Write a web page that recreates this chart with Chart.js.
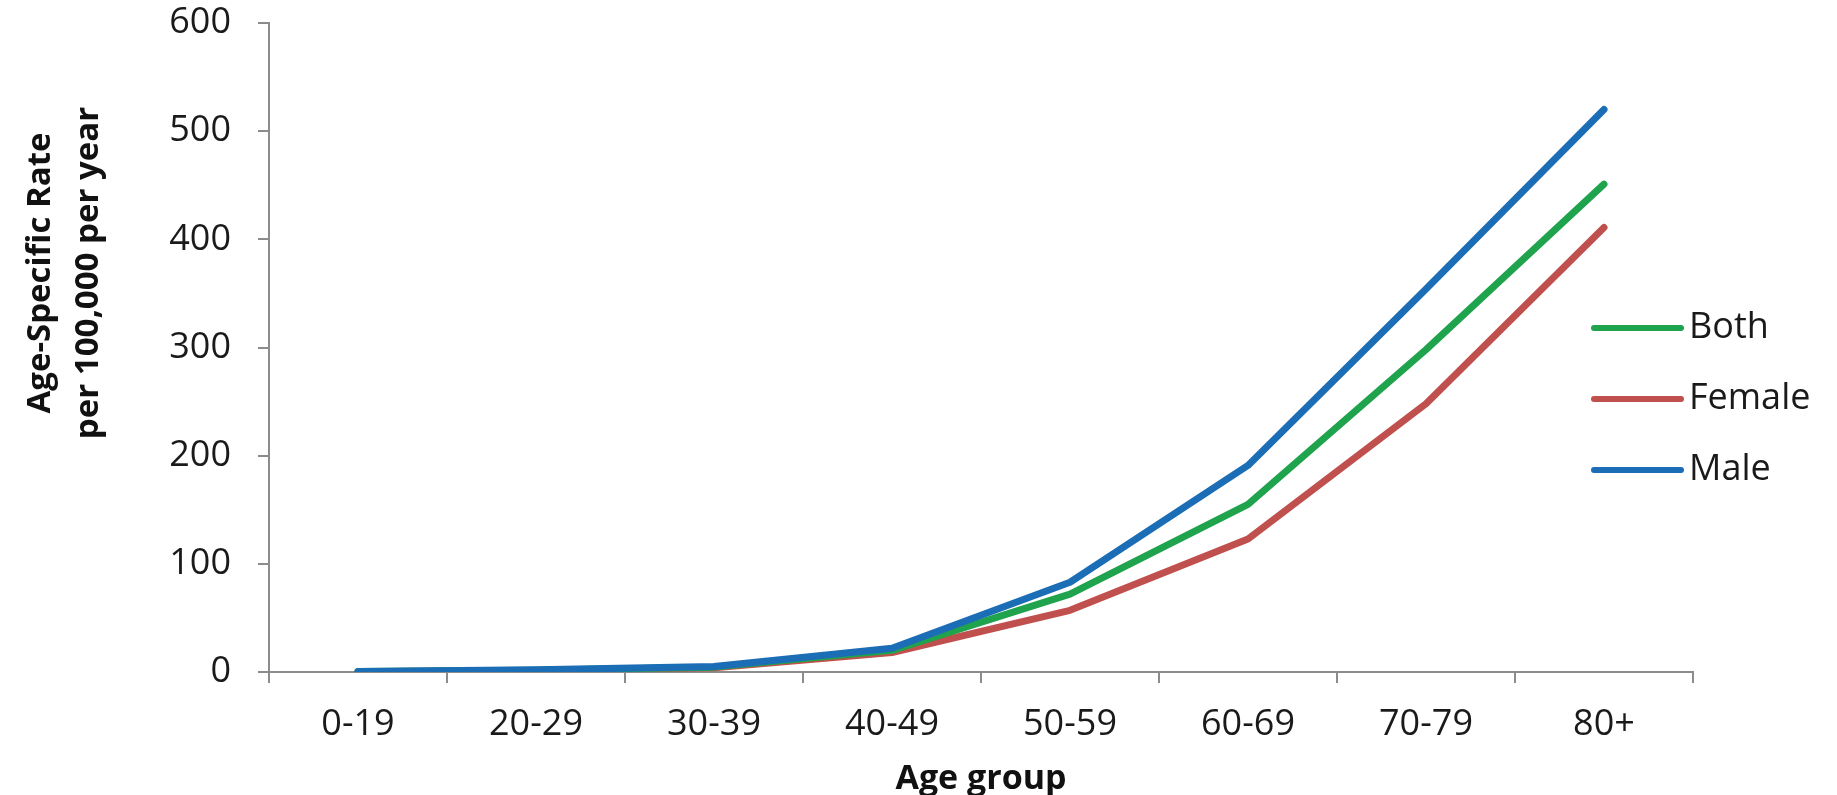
<!DOCTYPE html>
<html>
<head>
<meta charset="utf-8">
<script src="https://cdn.jsdelivr.net/npm/chart.js@4/dist/chart.umd.min.js"></script>
<style>
  html, body { margin: 0; padding: 0; background: #ffffff; }
  #wrap { width: 1837px; height: 795px; }
</style>
</head>
<body>
<div id="wrap"><canvas id="c" width="1837" height="795"></canvas></div>
<script>
// Age-specific rates per 100,000 per year, by age group
const ageGroups   = ['0-19', '20-29', '30-39', '40-49', '50-59', '60-69', '70-79', '80+'];
const bothRates   = [0.4, 1.7, 4.5, 20, 72, 155, 298, 451];
const femaleRates = [0.3, 1.5, 4, 18, 57, 123, 248, 411];
const maleRates   = [0.5, 2, 5, 22, 83, 191, 354, 520];
const yTicks      = [0, 100, 200, 300, 400, 500, 600];
const seriesNames = ['Both', 'Female', 'Male'];
const yTitleLines = ['Age-Specific Rate', 'per 100,000 per year'];
const xTitle      = 'Age group';

const AXIS_GREY = '#8c8c8c';
const TEXT = '#1a1a1a';
const FONT = 'Open Sans';

// Legend drawn beside the lines, plus the two-line rotated y title
const sideText = {
  id: 'sideText',
  afterDraw(chart) {
    const ctx = chart.ctx;
    ctx.save();
    // legend
    const rows = [328, 399, 470];
    chart.data.datasets.forEach((ds, i) => {
      const y = rows[i];
      ctx.strokeStyle = ds.borderColor;
      ctx.lineWidth = 6;
      ctx.lineCap = 'round';
      ctx.beginPath();
      ctx.moveTo(1594, y);
      ctx.lineTo(1681, y);
      ctx.stroke();
      ctx.fillStyle = TEXT;
      ctx.font = `36px "${FONT}"`;
      ctx.textAlign = 'left';
      ctx.textBaseline = 'middle';
      ctx.fillText(ds.label, 1689, y);
    });
    // y-axis title
    ctx.translate(0, 273);
    ctx.rotate(-Math.PI / 2);
    ctx.fillStyle = '#111111';
    ctx.font = `bold 33px "${FONT}"`;
    ctx.textAlign = 'center';
    ctx.textBaseline = 'middle';
    ctx.fillText(yTitleLines[0], 0, 41);
    ctx.fillText(yTitleLines[1], 0, 89);
    ctx.restore();
  }
};

const lineStyle = (label, data, color, order) => ({
  label, data, order,
  borderColor: color,
  backgroundColor: color,
  borderWidth: 7,
  borderCapStyle: 'round',
  borderJoinStyle: 'round',
  pointRadius: 0,
  pointHoverRadius: 0,
  tension: 0,
  fill: false
});

new Chart(document.getElementById('c'), {
  type: 'line',
  data: {
    labels: ageGroups,
    datasets: [
      lineStyle(seriesNames[0], bothRates, '#1fa34c', 1),
      lineStyle(seriesNames[1], femaleRates, '#c0504d', 2),
      lineStyle(seriesNames[2], maleRates, '#1b6db5', 0)
    ]
  },
  options: {
    responsive: false,
    animation: false,
    devicePixelRatio: 1,
    layout: { autoPadding: false, padding: { top: 23, right: 144, left: 0, bottom: 0 } },
    plugins: { legend: { display: false }, tooltip: { enabled: false } },
    scales: {
      x: {
        type: 'category',
        offset: true,
        grid: { offset: true, drawOnChartArea: false, drawTicks: true, tickLength: 11, color: AXIS_GREY, lineWidth: 2 },
        border: { color: AXIS_GREY, width: 2 },
        ticks: { font: { family: FONT, size: 36 }, color: TEXT, padding: 20, maxRotation: 0, autoSkip: false },
        title: { display: true, text: xTitle, font: { family: FONT, size: 34, weight: 'bold', lineHeight: 1 }, color: '#111111', padding: { top: 0, bottom: -1 } },
        afterFit(s) { s.height = 123; s.paddingLeft = 0; s.paddingRight = 0; }
      },
      y: {
        min: 0,
        max: 600,
        afterBuildTicks(s) { s.ticks = yTicks.map(v => ({ value: v })); },
        grid: { drawOnChartArea: false, drawTicks: true, tickLength: 11, color: AXIS_GREY, lineWidth: 2 },
        border: { color: AXIS_GREY, width: 2 },
        ticks: { font: { family: FONT, size: 36 }, color: TEXT, padding: 27 },
        afterFit(s) { s.width = 269; s.paddingTop = 0; s.paddingBottom = 0; }
      }
    }
  },
  plugins: [sideText]
});
</script>
</body>
</html>
